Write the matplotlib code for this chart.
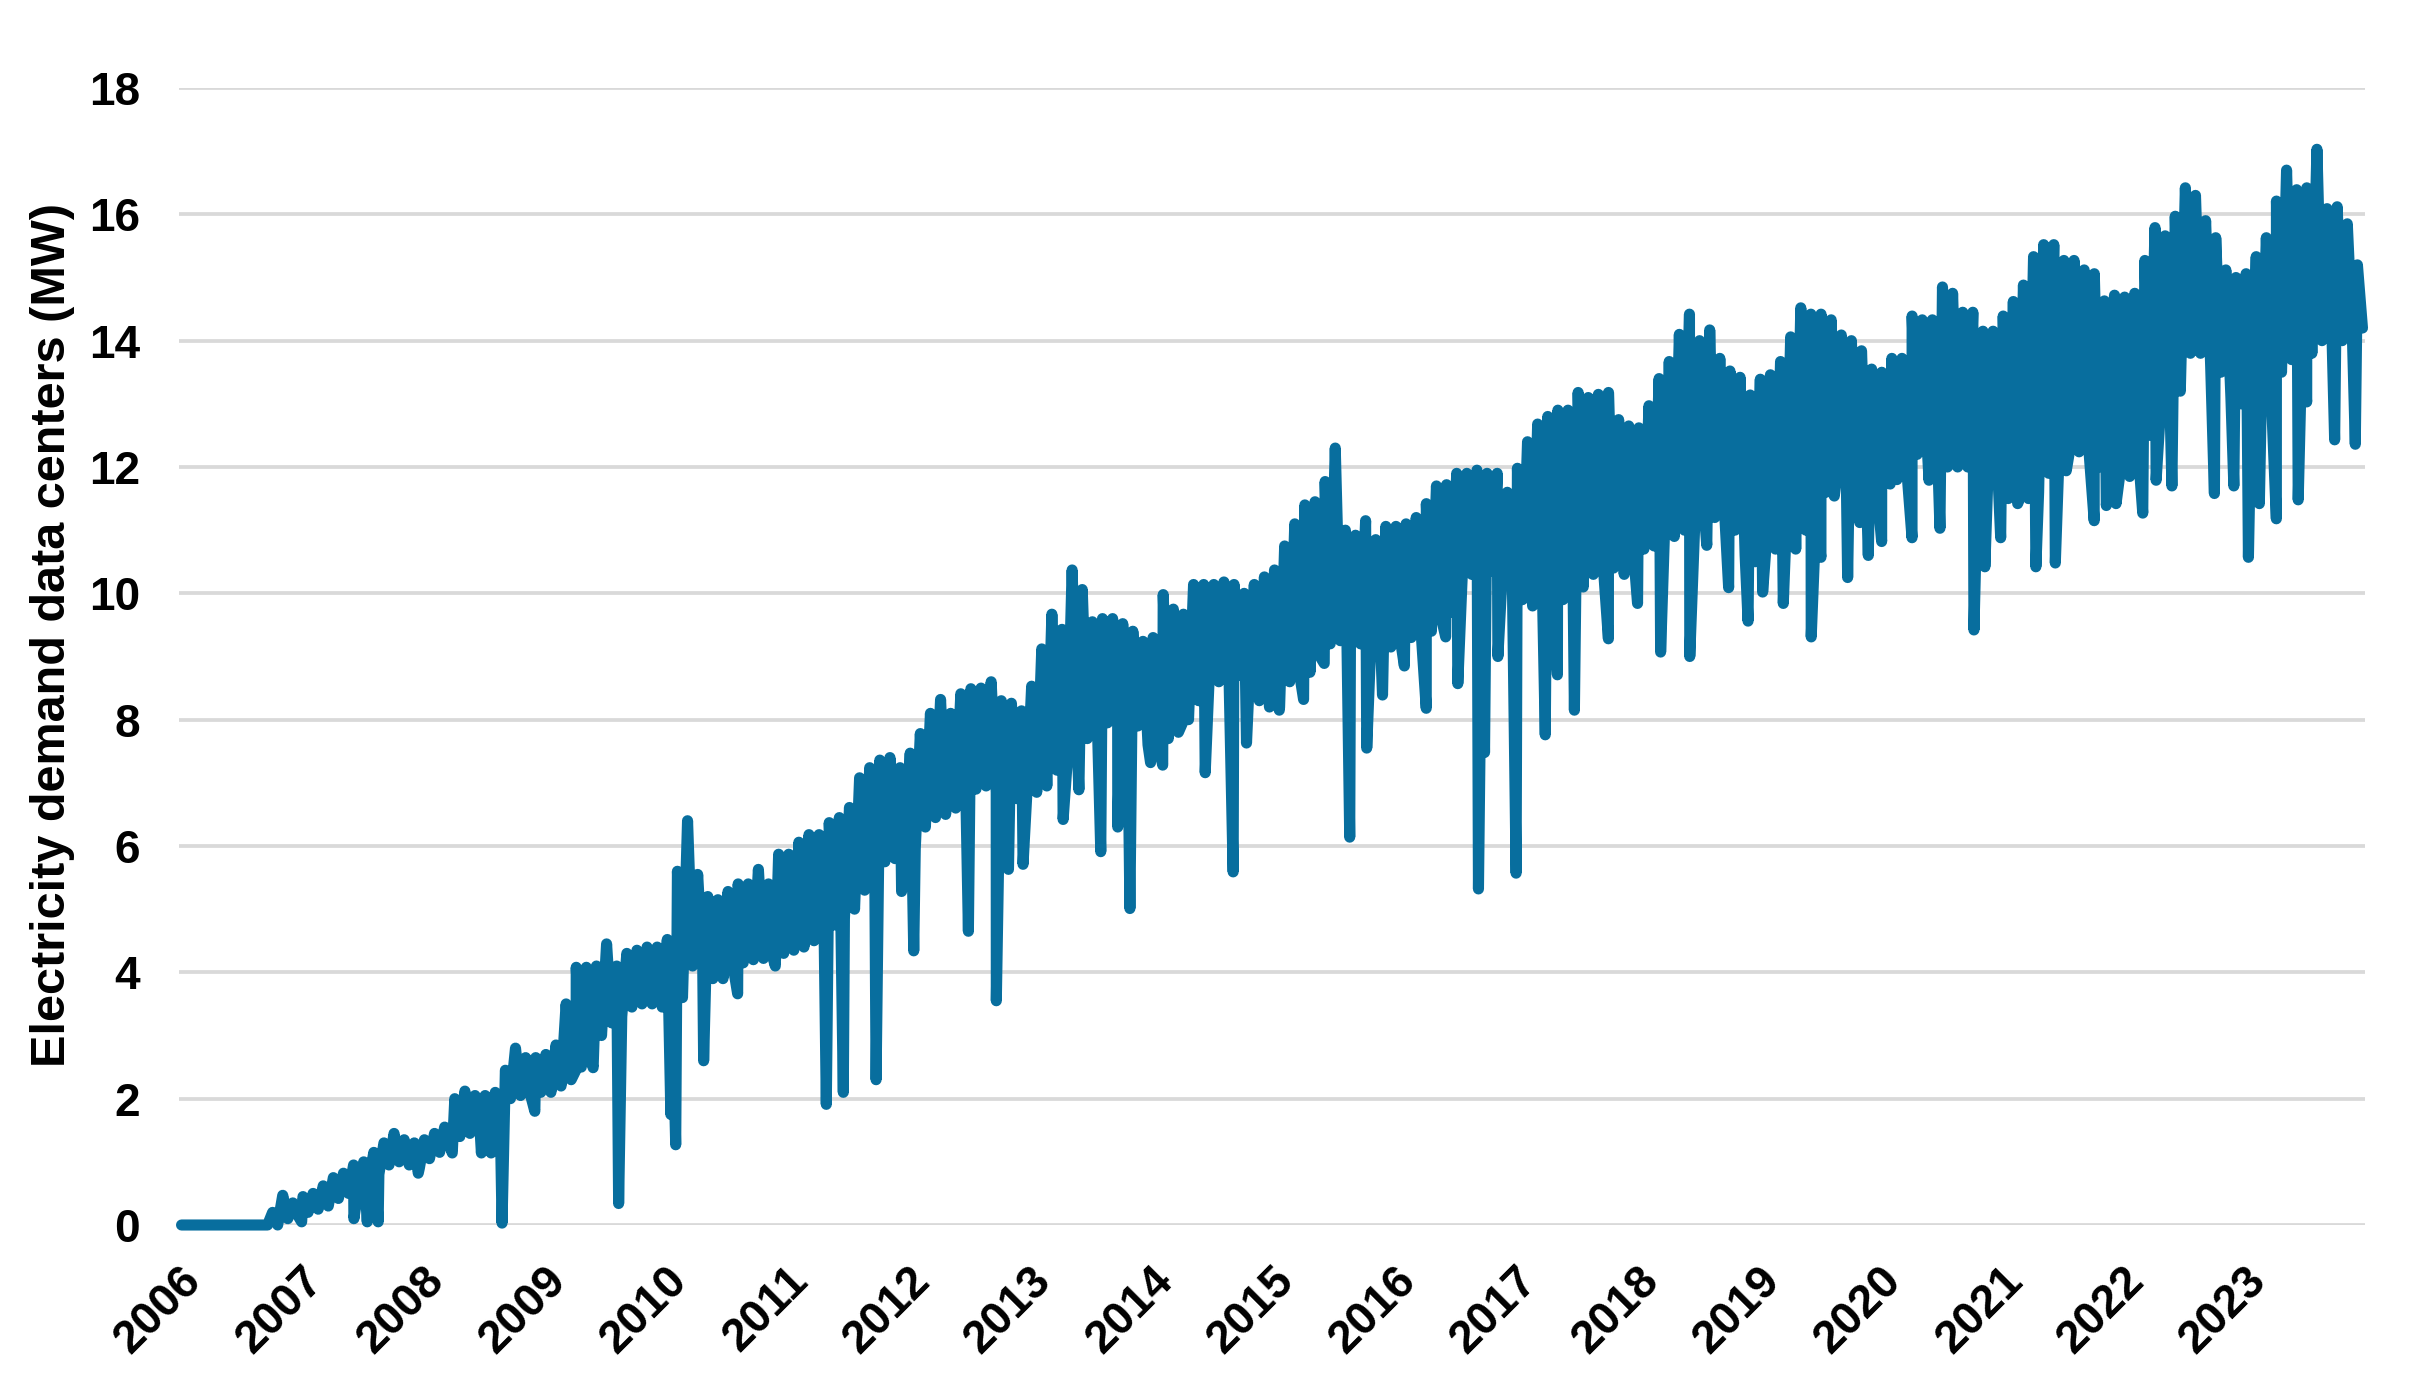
import numpy as np
import matplotlib
matplotlib.use("Agg")
import matplotlib.pyplot as plt

# ---------------- data ----------------
years = list(range(2006, 2024))            # x tick labels
yticks = list(range(0, 19, 2))

# monthly upper edge of the demand band (MW), Jan..Dec per row
month_high = [
    0, 0, 0, 0, 0, 0, 0, 0, 0, 0.20, 0.47, 0.35,                          # 2006
    0.45, 0.50, 0.62, 0.75, 0.82, 0.95, 1.00, 1.15, 1.30, 1.45, 1.35, 1.30,  # 2007
    1.35, 1.45, 1.55, 2.00, 2.12, 2.05, 2.05, 2.10, 2.45, 2.80, 2.65, 2.65,  # 2008
    2.70, 2.85, 3.50, 4.08, 4.08, 4.10, 4.45, 4.10, 4.30, 4.35, 4.40, 4.40,  # 2009
    4.52, 5.60, 6.40, 5.55, 5.20, 5.15, 5.28, 5.40, 5.40, 5.63, 5.40, 5.87,  # 2010
    5.87, 6.06, 6.18, 6.18, 6.37, 6.45, 6.61, 7.08, 7.24, 7.36, 7.40, 7.24,  # 2011
    7.47, 7.78, 8.10, 8.32, 8.10, 8.41, 8.49, 8.50, 8.60, 8.30, 8.26, 8.14,  # 2012
    8.53, 9.12, 9.67, 9.43, 10.37, 10.06, 9.55, 9.60, 9.60, 9.52, 9.40, 9.24,  # 2013
    9.30, 9.98, 9.75, 9.67, 10.14, 10.14, 10.14, 10.18, 10.14, 10.00, 10.14, 10.26,  # 2014
    10.37, 10.75, 11.10, 11.40, 11.45, 11.77, 12.30, 11.00, 10.92, 11.15, 10.85, 11.06,  # 2015
    11.06, 11.10, 11.20, 11.42, 11.70, 11.72, 11.90, 11.90, 11.95, 11.90, 11.90, 11.60,  # 2016
    11.98, 12.40, 12.68, 12.80, 12.90, 12.90, 13.18, 13.10, 13.15, 13.18, 12.75, 12.65,  # 2017
    12.62, 12.97, 13.40, 13.67, 14.10, 14.42, 14.00, 14.17, 13.72, 13.52, 13.42, 13.14,  # 2018
    13.39, 13.46, 13.67, 14.06, 14.52, 14.42, 14.42, 14.33, 14.09, 14.00, 13.84, 13.55,  # 2019
    13.50, 13.72, 13.72, 14.39, 14.33, 14.33, 14.85, 14.75, 14.45, 14.45, 14.15, 14.15,  # 2020
    14.39, 14.62, 14.88, 15.33, 15.52, 15.52, 15.27, 15.27, 15.12, 15.06, 14.63, 14.72,  # 2021
    14.69, 14.75, 15.27, 15.79, 15.66, 15.97, 16.42, 16.30, 15.90, 15.63, 15.12, 15.00,  # 2022
    15.06, 15.33, 15.63, 16.21, 16.70, 16.39, 16.42, 17.03, 16.09, 16.12, 15.85, 15.20,  # 2023
]

# monthly lower edge of the demand band (MW), Jan..Dec per row
month_low = [
    0, 0, 0, 0, 0, 0, 0, 0, 0, 0.00, 0.10, 0.15,                          # 2006
    0.20, 0.25, 0.30, 0.42, 0.50, 0.60, 0.70, 0.80, 0.95, 1.00, 0.95, 0.90,  # 2007
    1.05, 1.15, 1.25, 1.40, 1.45, 1.50, 1.55, 1.60, 2.00, 2.05, 2.05, 2.10,  # 2008
    2.10, 2.20, 2.30, 2.50, 2.60, 3.00, 3.20, 3.30, 3.45, 3.50, 3.50, 3.45,  # 2009
    3.40, 3.60, 4.10, 4.10, 3.90, 3.90, 4.10, 4.15, 4.20, 4.22, 4.20, 4.30,  # 2010
    4.35, 4.40, 4.50, 4.55, 4.75, 4.85, 5.00, 5.30, 5.60, 5.75, 5.80, 5.85,  # 2011
    5.95, 6.30, 6.45, 6.50, 6.60, 6.80, 6.90, 6.95, 6.85, 6.75, 6.75, 6.75,  # 2012
    6.85, 6.95, 7.20, 7.30, 7.55, 7.70, 7.90, 7.95, 7.95, 7.90, 7.90, 7.60,  # 2013
    7.60, 7.70, 7.80, 8.00, 8.30, 8.50, 8.60, 8.70, 8.70, 8.60, 8.30, 8.20,  # 2014
    8.20, 8.60, 8.70, 8.75, 9.00, 9.20, 9.25, 9.20, 9.20, 9.15, 9.10, 9.15,  # 2015
    9.20, 9.30, 9.35, 9.40, 9.60, 9.70, 10.10, 10.30, 10.35, 10.35, 10.30, 10.20,  # 2016
    9.90, 9.80, 9.80, 9.80, 9.90, 10.10, 10.10, 10.30, 10.40, 10.40, 10.50, 10.60,  # 2017
    10.70, 10.75, 10.80, 10.90, 11.00, 11.00, 11.20, 11.20, 11.20, 11.00, 10.60, 10.50,  # 2018
    10.60, 10.70, 10.80, 10.70, 11.00, 11.20, 11.60, 11.80, 11.80, 11.60, 11.55, 11.70,  # 2019
    11.75, 11.80, 11.90, 12.20, 12.30, 12.30, 12.00, 12.00, 12.00, 11.95, 11.90, 11.80,  # 2020
    11.50, 11.45, 11.50, 11.60, 11.90, 12.10, 12.20, 12.24, 12.20, 12.00, 11.90, 11.85,  # 2021
    11.85, 11.90, 12.50, 12.80, 12.85, 13.20, 13.80, 13.80, 13.60, 13.50, 13.10, 13.00,  # 2022
    12.90, 13.00, 13.10, 13.50, 13.70, 13.80, 13.80, 14.00, 14.00, 14.00, 14.10, 14.20,  # 2023
]

# short outages / dips (decimal year, MW)
dip_time = [
    2007.01, 2007.44, 2007.55, 2007.64, 2007.97, 2008.25, 2008.49, 2008.57,
    2008.66, 2008.93, 2009.27, 2009.41, 2009.62, 2010.05, 2010.09, 2010.32,
    2010.60, 2010.91, 2011.33, 2011.47, 2011.74, 2011.95, 2012.05, 2012.50,
    2012.73, 2012.83, 2012.95, 2013.28, 2013.41, 2013.59, 2013.73, 2013.83,
    2014.00, 2014.10, 2014.27, 2014.45, 2014.68, 2014.79, 2015.06, 2015.26,
    2015.43, 2015.64, 2015.78, 2015.91, 2016.09, 2016.27, 2016.43, 2016.53,
    2016.70, 2016.75, 2016.86, 2017.01, 2017.25, 2017.35, 2017.49, 2017.77,
    2017.90, 2018.01, 2018.20, 2018.44, 2018.58, 2018.76, 2018.92, 2019.04,
    2019.21, 2019.44, 2019.52, 2019.63, 2019.74, 2019.84, 2019.91, 2020.02,
    2020.09, 2020.27, 2020.41, 2020.50, 2020.78, 2020.87, 2021.00, 2021.14,
    2021.29, 2021.45, 2021.54, 2021.77, 2021.87, 2021.95, 2022.17, 2022.28,
    2022.41, 2022.76, 2022.92, 2023.04, 2023.13, 2023.27, 2023.45, 2023.52,
    2023.75, 2023.92,
]
dip_value = [
    0.05, 0.10, 0.05, 0.05, 0.82, 1.14, 1.14, 1.14,
    0.03, 1.80, 2.46, 2.49, 0.34, 1.75, 1.27, 2.60,
    3.66, 4.10, 1.91, 2.10, 2.30, 5.28, 4.34, 4.65,
    3.55, 5.63, 5.71, 6.42, 6.89, 5.91, 6.30, 5.01,
    7.32, 7.28, 7.98, 7.16, 5.59, 7.63, 8.15, 8.32,
    8.89, 6.14, 7.55, 8.39, 8.85, 8.18, 9.31, 8.57,
    5.32, 7.48, 9.00, 5.57, 7.76, 8.71, 8.15, 9.28,
    10.30, 9.84, 9.07, 9.00, 10.76, 10.09, 9.56, 10.02,
    9.84, 9.31, 10.57, 11.54, 10.25, 11.12, 10.60, 10.82,
    11.73, 10.88, 11.79, 11.03, 9.42, 10.42, 10.88, 11.42,
    10.42, 10.48, 11.94, 11.15, 11.39, 11.42, 11.27, 11.79,
    11.70, 11.58, 11.70, 10.57, 11.42, 11.18, 11.48, 13.03,
    12.43, 12.36,
]

# ---------------- assemble series ----------------
n_months = len(month_high)
month_idx = np.arange(n_months)
t_high = years[0] + (month_idx + 0.25) / 12.0
t_low = years[0] + (month_idx + 0.75) / 12.0
t_all = np.concatenate([t_high, t_low, np.array(dip_time)])
v_all = np.concatenate([np.array(month_high), np.array(month_low), np.array(dip_value)])
order = np.argsort(t_all, kind="stable")
t_all = t_all[order]
v_all = v_all[order]

# ---------------- figure ----------------
plt.rcParams["font.family"] = ["Liberation Sans", "DejaVu Sans"]
plt.rcParams["font.weight"] = "bold"

W, H, DPI = 2418, 1384, 200
fig = plt.figure(figsize=(W / DPI, H / DPI), dpi=DPI)
left_px, right_px, top_px, bottom_px = 179, 2365, 88, 1225
ax = fig.add_axes([left_px / W, 1 - bottom_px / H,
                   (right_px - left_px) / W, (bottom_px - top_px) / H])

line_color = "#086E9E"
ax.plot(t_all, v_all, color=line_color, linewidth=4.0,
        solid_joinstyle="round", solid_capstyle="round", clip_on=False, zorder=3)

ax.set_xlim(2006, 2024)
ax.set_ylim(0, 18)
ax.set_yticks(yticks)
ax.set_yticklabels([str(v) for v in yticks], fontsize=16.5, fontweight="bold")
ax.set_xticks(years)
ax.set_xticklabels([str(y) for y in years], fontsize=16.5, fontweight="bold",
                   rotation=45, ha="right", va="top", rotation_mode="anchor")

ax.grid(axis="y", color="#D9D9D9", linewidth=1.35, zorder=0)
ax.grid(axis="x", visible=False)
ax.set_axisbelow(True)
for sp in ax.spines.values():
    sp.set_visible(False)
ax.tick_params(axis="both", length=0)
ax.tick_params(axis="y", pad=14)
ax.tick_params(axis="x", pad=12)

ax.set_ylabel("Electricity demand data centers (MW)", fontsize=17.5, fontweight="bold")
ax.yaxis.set_label_coords((75 - left_px) / (right_px - left_px), 0.519)

fig.savefig("out.png", dpi=DPI, facecolor="white")
